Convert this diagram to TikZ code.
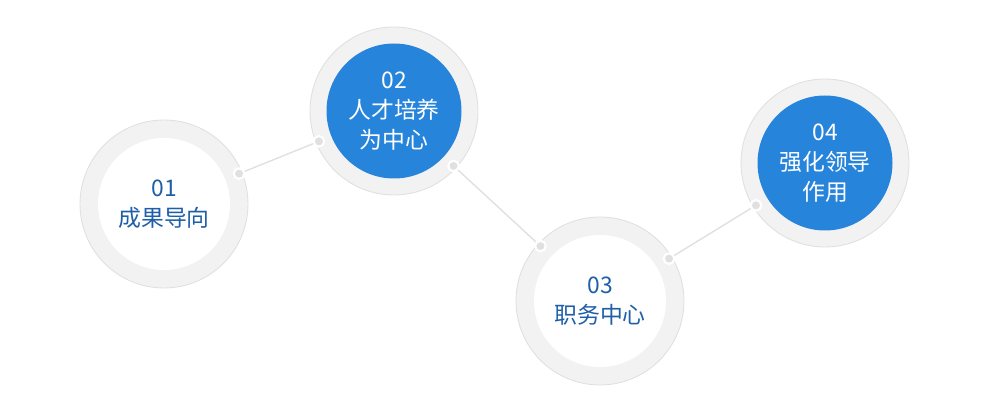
\documentclass[tikz,border=0pt]{standalone}
\usepackage{fontspec}
\setmainfont{Noto Sans CJK SC}
\usetikzlibrary{calc}
\definecolor{ringgray}{HTML}{F2F2F2}
\definecolor{ringline}{HTML}{E0E0E0}
\definecolor{stepblue}{HTML}{2784DB}
\definecolor{textblue}{HTML}{1F5FA8}
\tikzset{
  ring/.style={circle,fill=ringgray,draw=ringline,line width=0.5pt,minimum size=3.36cm,inner sep=0pt},
  hollow/.style={circle,fill=white,minimum size=2.64cm,inner sep=0pt,align=center,text=textblue,font=\fontsize{13}{17}\selectfont},
  solid/.style={circle,fill=stepblue,minimum size=2.7cm,inner sep=0pt,align=center,text=white,font=\fontsize{13}{17}\selectfont},
  joint/.style={circle,fill=ringline,draw=white,line width=1.2pt,minimum size=6pt,inner sep=0pt},
  link/.style={draw=ringline,line width=0.8pt}
}
\begin{document}
\begin{tikzpicture}
\useasboundingbox (0,0) rectangle (20,8.4);
% rings
\node[ring] (r1) at (3.28,4.32) {};
\node[ring] (r2) at (7.88,6.18) {};
\node[ring] (r3) at (12.0,2.38) {};
\node[ring] (r4) at (16.5,5.14) {};
% centres
\node[hollow] (c1) at (r1) {01\\成果导向};
\node[solid] (c2) at (r2) {02\\人才培养\\为中心};
\node[hollow] (c3) at (r3) {03\\职务中心};
\node[solid] (c4) at (r4) {04\\强化领导\\作用};
% connectors
\foreach \a/\b [count=\i] in {r1/r2,r2/r3,r3/r4}{
  \coordinate (s\i) at ($(\a)!1.62cm!(\b)$);
  \coordinate (e\i) at ($(\b)!1.62cm!(\a)$);
  \draw[link] (s\i) -- (e\i);
  \node[joint] at (s\i) {};
  \node[joint] at (e\i) {};
}
\end{tikzpicture}
\end{document}
